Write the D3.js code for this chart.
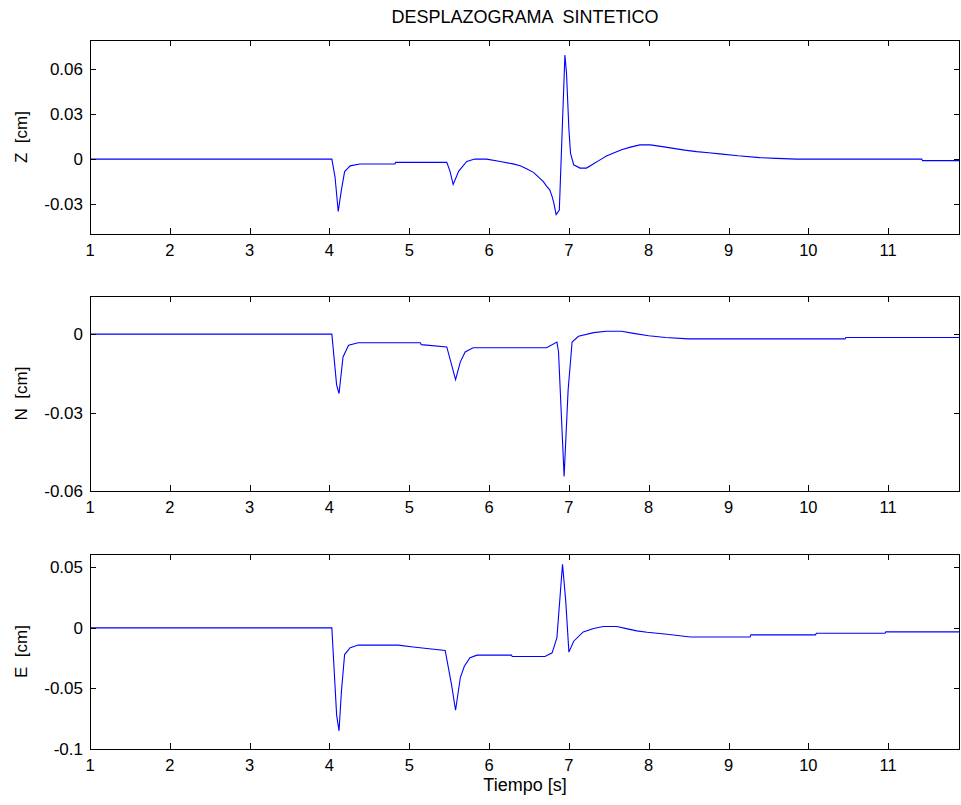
<!DOCTYPE html>
<html>
<head>
<meta charset="utf-8">
<script src="https://cdn.jsdelivr.net/npm/d3@7"></script>
<style>
  body { margin: 0; background: #fff; }
  text { font-family: "Liberation Sans", Arial, Helvetica, sans-serif; fill: #000; }
</style>
</head>
<body>
<svg id="chart" width="961" height="805"></svg>
<script>
// time axis (s) shared by all three components
var xTicks = [1, 2, 3, 4, 5, 6, 7, 8, 9, 10, 11];

// Z component
var zTime = [1, 4.03, 4.07, 4.11, 4.15, 4.19, 4.26, 4.38, 4.82, 4.83, 5.47, 5.51, 5.55, 5.62, 5.72, 5.82, 5.97, 6.14, 6.3, 6.39, 6.47, 6.56, 6.62, 6.68, 6.72, 6.76, 6.79, 6.81, 6.84, 6.88, 6.95, 6.97, 7.0, 7.02, 7.06, 7.14, 7.22, 7.3, 7.39, 7.47, 7.56, 7.66, 7.77, 7.89, 8.02, 8.15, 8.29, 8.45, 8.6, 8.75, 8.89, 9.12, 9.39, 9.6, 9.85, 11.42, 11.43, 11.9];
var zDisp = [0, 0, -0.012, -0.035, -0.0205, -0.0083, -0.0045, -0.0033, -0.0033, -0.0022, -0.0022, -0.008, -0.017, -0.008, -0.0016, 0, 0, -0.0016, -0.0032, -0.0045, -0.0065, -0.009, -0.012, -0.015, -0.018, -0.0205, -0.025, -0.029, -0.037, -0.034, 0.0695, 0.0575, 0.02, 0.004, -0.0038, -0.006, -0.006, -0.0035, -0.0005, 0.002, 0.004, 0.0062, 0.008, 0.0095, 0.0095, 0.0085, 0.0073, 0.006, 0.005, 0.0042, 0.0035, 0.0022, 0.001, 0.0005, 0, 0, -0.001, -0.001];

// N component
var nTime = [1, 4.03, 4.09, 4.12, 4.17, 4.24, 4.36, 5.14, 5.15, 5.47, 5.58, 5.64, 5.7, 5.8, 6.72, 6.85, 6.87, 6.94, 6.99, 7.04, 7.12, 7.31, 7.47, 7.66, 7.81, 8.0, 8.21, 8.5, 10.46, 10.47, 11.9];
var nDisp = [0, 0, -0.0195, -0.0227, -0.0087, -0.0042, -0.0033, -0.0033, -0.004, -0.0049, -0.0174, -0.0106, -0.0068, -0.0052, -0.0052, -0.003, -0.0068, -0.0544, -0.0215, -0.003, -0.0008, 0.0006, 0.0011, 0.0011, 0.0003, -0.0006, -0.0013, -0.0018, -0.0018, -0.0013, -0.0013];

// E component
var eTime = [1, 4.03, 4.09, 4.12, 4.15, 4.19, 4.26, 4.36, 4.86, 5.05, 5.22, 5.45, 5.53, 5.58, 5.64, 5.69, 5.76, 5.85, 6.28, 6.29, 6.7, 6.79, 6.85, 6.92, 6.96, 7.0, 7.06, 7.18, 7.31, 7.43, 7.6, 7.72, 7.85, 7.98, 8.23, 8.52, 9.27, 9.28, 10.09, 10.1, 10.96, 10.97, 11.9];
var eDisp = [0, 0, -0.072, -0.085, -0.0525, -0.022, -0.0164, -0.0142, -0.0142, -0.0158, -0.017, -0.0186, -0.047, -0.068, -0.041, -0.0317, -0.0247, -0.0225, -0.0225, -0.0236, -0.0236, -0.0206, -0.008, 0.0525, 0.0225, -0.02, -0.011, -0.0033, -0.0005, 0.0011, 0.0011, -0.0006, -0.0025, -0.0036, -0.0053, -0.0075, -0.0075, -0.0058, -0.0058, -0.0044, -0.0044, -0.0033, -0.0033];

var zTicks = [-0.03, 0, 0.03, 0.06], zTickLabels = ['-0.03', '0', '0.03', '0.06'];
var nTicks = [-0.06, -0.03, 0], nTickLabels = ['-0.06', '-0.03', '0'];
var eTicks = [-0.1, -0.05, 0, 0.05], eTickLabels = ['-0.1', '-0.05', '0', '0.05'];

var panels = [
	{name: 'Z  [cm]', time: zTime, disp: zDisp, domain: [-0.05, 0.0795], ticks: zTicks, labels: zTickLabels, top: 40, bottom: 234},
	{name: 'N  [cm]', time: nTime, disp: nDisp, domain: [-0.06, 0.0146], ticks: nTicks, labels: nTickLabels, top: 296, bottom: 491},
	{name: 'E  [cm]', time: eTime, disp: eDisp, domain: [-0.1, 0.061], ticks: eTicks, labels: eTickLabels, top: 554, bottom: 749}
];

var svg = d3.select('#chart');
var left = 90, right = 960, tickLen = 6;

var x = d3.scaleLinear().domain([1, 11.9]).range([left, right]);

svg.append('text')
	.attr('x', (left + right) / 2)
	.attr('y', 23)
	.attr('text-anchor', 'middle')
	.style('font-size', '18px')
	.style('white-space', 'pre')
	.text('DESPLAZOGRAMA  SINTETICO');

panels.forEach(function(p, i) {
	var y = d3.scaleLinear().domain(p.domain).range([p.bottom, p.top]);
	var g = svg.append('g');

	g.append('clipPath').attr('id', 'clip' + i)
		.append('rect')
		.attr('x', left).attr('y', p.top)
		.attr('width', right - left).attr('height', p.bottom - p.top);

	var line = d3.line()
		.x(function(d) { return x(d[0]); })
		.y(function(d) { return y(d[1]); });

	g.append('path')
		.datum(d3.zip(p.time, p.disp))
		.attr('clip-path', 'url(#clip' + i + ')')
		.attr('fill', 'none')
		.attr('stroke', '#0000ff')
		.attr('stroke-width', 1.1)
		.attr('d', line);

	// box
	g.append('rect')
		.attr('x', left + 0.5).attr('y', p.top + 0.5)
		.attr('width', right - left - 1).attr('height', p.bottom - p.top)
		.attr('fill', 'none')
		.attr('stroke', '#000')
		.attr('stroke-width', 1.3)
		.attr('shape-rendering', 'crispEdges');

	// x ticks, inward on bottom and top
	xTicks.forEach(function(t) {
		var px = Math.round(x(t)) + 0.5;
		g.append('line').attr('x1', px).attr('x2', px)
			.attr('y1', p.bottom).attr('y2', p.bottom - tickLen)
			.attr('stroke', '#000');
		g.append('line').attr('x1', px).attr('x2', px)
			.attr('y1', p.top).attr('y2', p.top + tickLen)
			.attr('stroke', '#000');
		g.append('text')
			.attr('x', x(t))
			.attr('y', p.bottom + 22)
			.attr('text-anchor', 'middle')
			.style('font-size', '16.5px')
			.text(t);
	});

	// y ticks, inward on left and right
	p.ticks.forEach(function(v, k) {
		var py = Math.round(y(v)) + 0.5;
		g.append('line').attr('x1', left).attr('x2', left + tickLen)
			.attr('y1', py).attr('y2', py)
			.attr('stroke', '#000');
		g.append('line').attr('x1', right).attr('x2', right - tickLen)
			.attr('y1', py).attr('y2', py)
			.attr('stroke', '#000');
		g.append('text')
			.attr('x', left - 7)
			.attr('y', y(v))
			.attr('dy', '0.35em')
			.attr('text-anchor', 'end')
			.style('font-size', '17px')
			.text(p.labels[k]);
	});

	g.append('text')
		.attr('transform', 'translate(27,' + (p.top + p.bottom) / 2 + ') rotate(-90)')
		.attr('text-anchor', 'middle')
		.style('font-size', '17px')
		.style('white-space', 'pre')
		.text(p.name);
});

svg.append('text')
	.attr('x', (left + right) / 2)
	.attr('y', 791)
	.attr('text-anchor', 'middle')
	.style('font-size', '18px')
	.text('Tiempo [s]');
</script>
</body>
</html>
